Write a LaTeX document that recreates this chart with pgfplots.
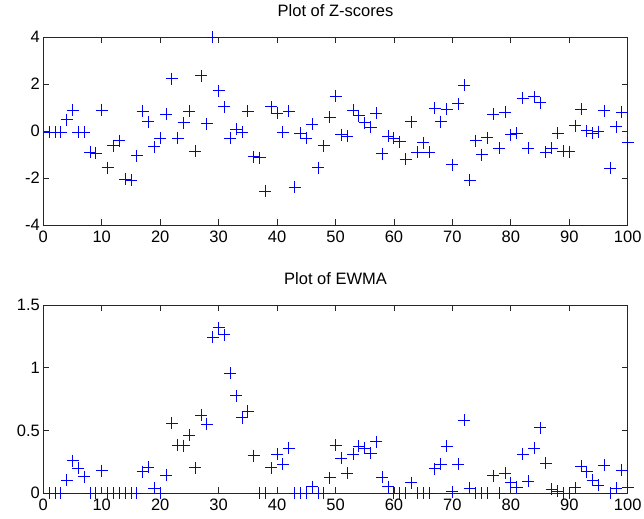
\documentclass[border=0pt]{standalone}
\usepackage{pgfplots}
\usepackage{pgfplotstable}
\pgfplotsset{compat=1.18}
\usepackage{fontspec}
\setmainfont{Liberation Sans}

\newcommand\fsz{\fontsize{16.5bp}{19bp}\selectfont}
\definecolor{markblue}{RGB}{0,0,255}

% sample index, z-score, EWMA (lower-bounded at zero)
\pgfplotstableread{
t   z      e
1   -0.05  0
2   -0.05  0
3   -0.05  0
4   0.49   0.104
5   0.90   0.258
6   -0.05  0.197
7   -0.05  0.130
8   -0.90  0
9   -0.94  0
10  0.90   0.178
11  -1.55  0
12  -0.62  0
13  -0.40  0
14  -2.05  0
15  -2.09  0
16  -1.04  0
17  0.86   0.170
18  0.41   0.205
19  -0.66  0.037
20  -0.29  0
21  0.73   0.144
22  2.24   0.556
23  -0.29  0.383
24  0.36   0.378
25  0.86   0.463
26  -0.85  0.202
27  2.37   0.622
28  0.31   0.548
29  4.00   1.247
30  1.72   1.319
31  1.05   1.266
32  -0.29  0.955
33  0.09   0.777
34  -0.05  0.601
35  0.86   0.654
36  -1.09  0.298
37  -1.13  0
38  -2.55  0
39  1.05   0.202
40  0.76   0.311
41  -0.05  0.231
42  0.86   0.356
43  -2.39  0
44  -0.09  0
45  -0.29  0
46  0.29   0.050
47  -1.55  0
48  -0.62  0
49  0.59   0.122
50  1.50   0.383
51  -0.16  0.277
52  -0.21  0.160
53  0.89   0.309
54  0.65   0.375
55  0.36   0.356
56  0.16   0.316
57  0.76   0.410
58  -0.97  0.128
59  -0.21  0.050
60  -0.30  0
61  -0.45  0
62  -1.20  0
63  0.41   0.082
64  -0.90  0
65  -0.50  0
66  -0.90  0
67  0.97   0.194
68  0.41   0.231
69  0.93   0.375
70  -1.43  0.010
71  1.16   0.231
72  1.95   0.580
73  -2.09  0.037
74  -0.40  0
75  -1.01  0
76  -0.28  0
77  0.72   0.138
78  -0.73  0
79  0.80   0.157
80  -0.16  0.082
81  -0.09  0.048
82  1.40   0.309
83  -0.73  0.096
84  1.47   0.356
85  1.21   0.521
86  -0.90  0.237
87  -0.73  0.032
88  -0.09  0.015
89  -0.85  0
90  -0.87  0
91  0.24   0.043
92  0.93   0.215
93  0.01   0.170
94  -0.09  0.104
95  -0.02  0.064
96  0.87   0.223
97  -1.58  0
98  0.19   0.037
99  0.80   0.184
100 -0.49  0.048
}\series

\pgfplotsset{
  panel/.style={
    scale only axis,
    width=584.4bp, height=187.7bp,
    anchor=south west,
    xmin=0, xmax=100,
    xtick={0,10,...,100},
    xticklabels={0,10,20,30,40,50,60,70,80,90,100},
    tick align=inside,
    major tick length=6bp,
    xtick pos=both, ytick pos=both,
    xticklabel pos=lower, yticklabel pos=left,
    axis line style={line width=0.8bp, black!85},
    every tick/.style={line width=0.8bp, black!85},
    clip=false,
    tick label style={font=\fsz},
    xticklabel style={yshift=-2.5bp},
    title style={font=\fsz, at={(0.5,1)}, anchor=base, inner sep=0pt, yshift=15bp},
  },
  pts/.style={only marks, mark=+, mark size=6bp, color=markblue,
    mark options={line width=0.9bp}},
}

\begin{document}
\begin{tikzpicture}
\useasboundingbox (0,0) rectangle (644bp,519bp);

\begin{axis}[panel, at={(43.3bp,294bp)},
  ymin=-4, ymax=4,
  ytick={-4,-2,0,2,4}, yticklabels={-4,-2,0,2,4},
  title={Plot of Z-scores}]
  \addplot[pts] table[x=t, y=z] {\series};
\end{axis}

\begin{axis}[panel, at={(43.3bp,26bp)},
  ymin=0, ymax=1.5,
  ytick={0,0.5,1,1.5}, yticklabels={0,0.5,1,1.5},
  title={Plot of EWMA}]
  \addplot[pts] table[x=t, y=e] {\series};
\end{axis}
\end{tikzpicture}
\end{document}
